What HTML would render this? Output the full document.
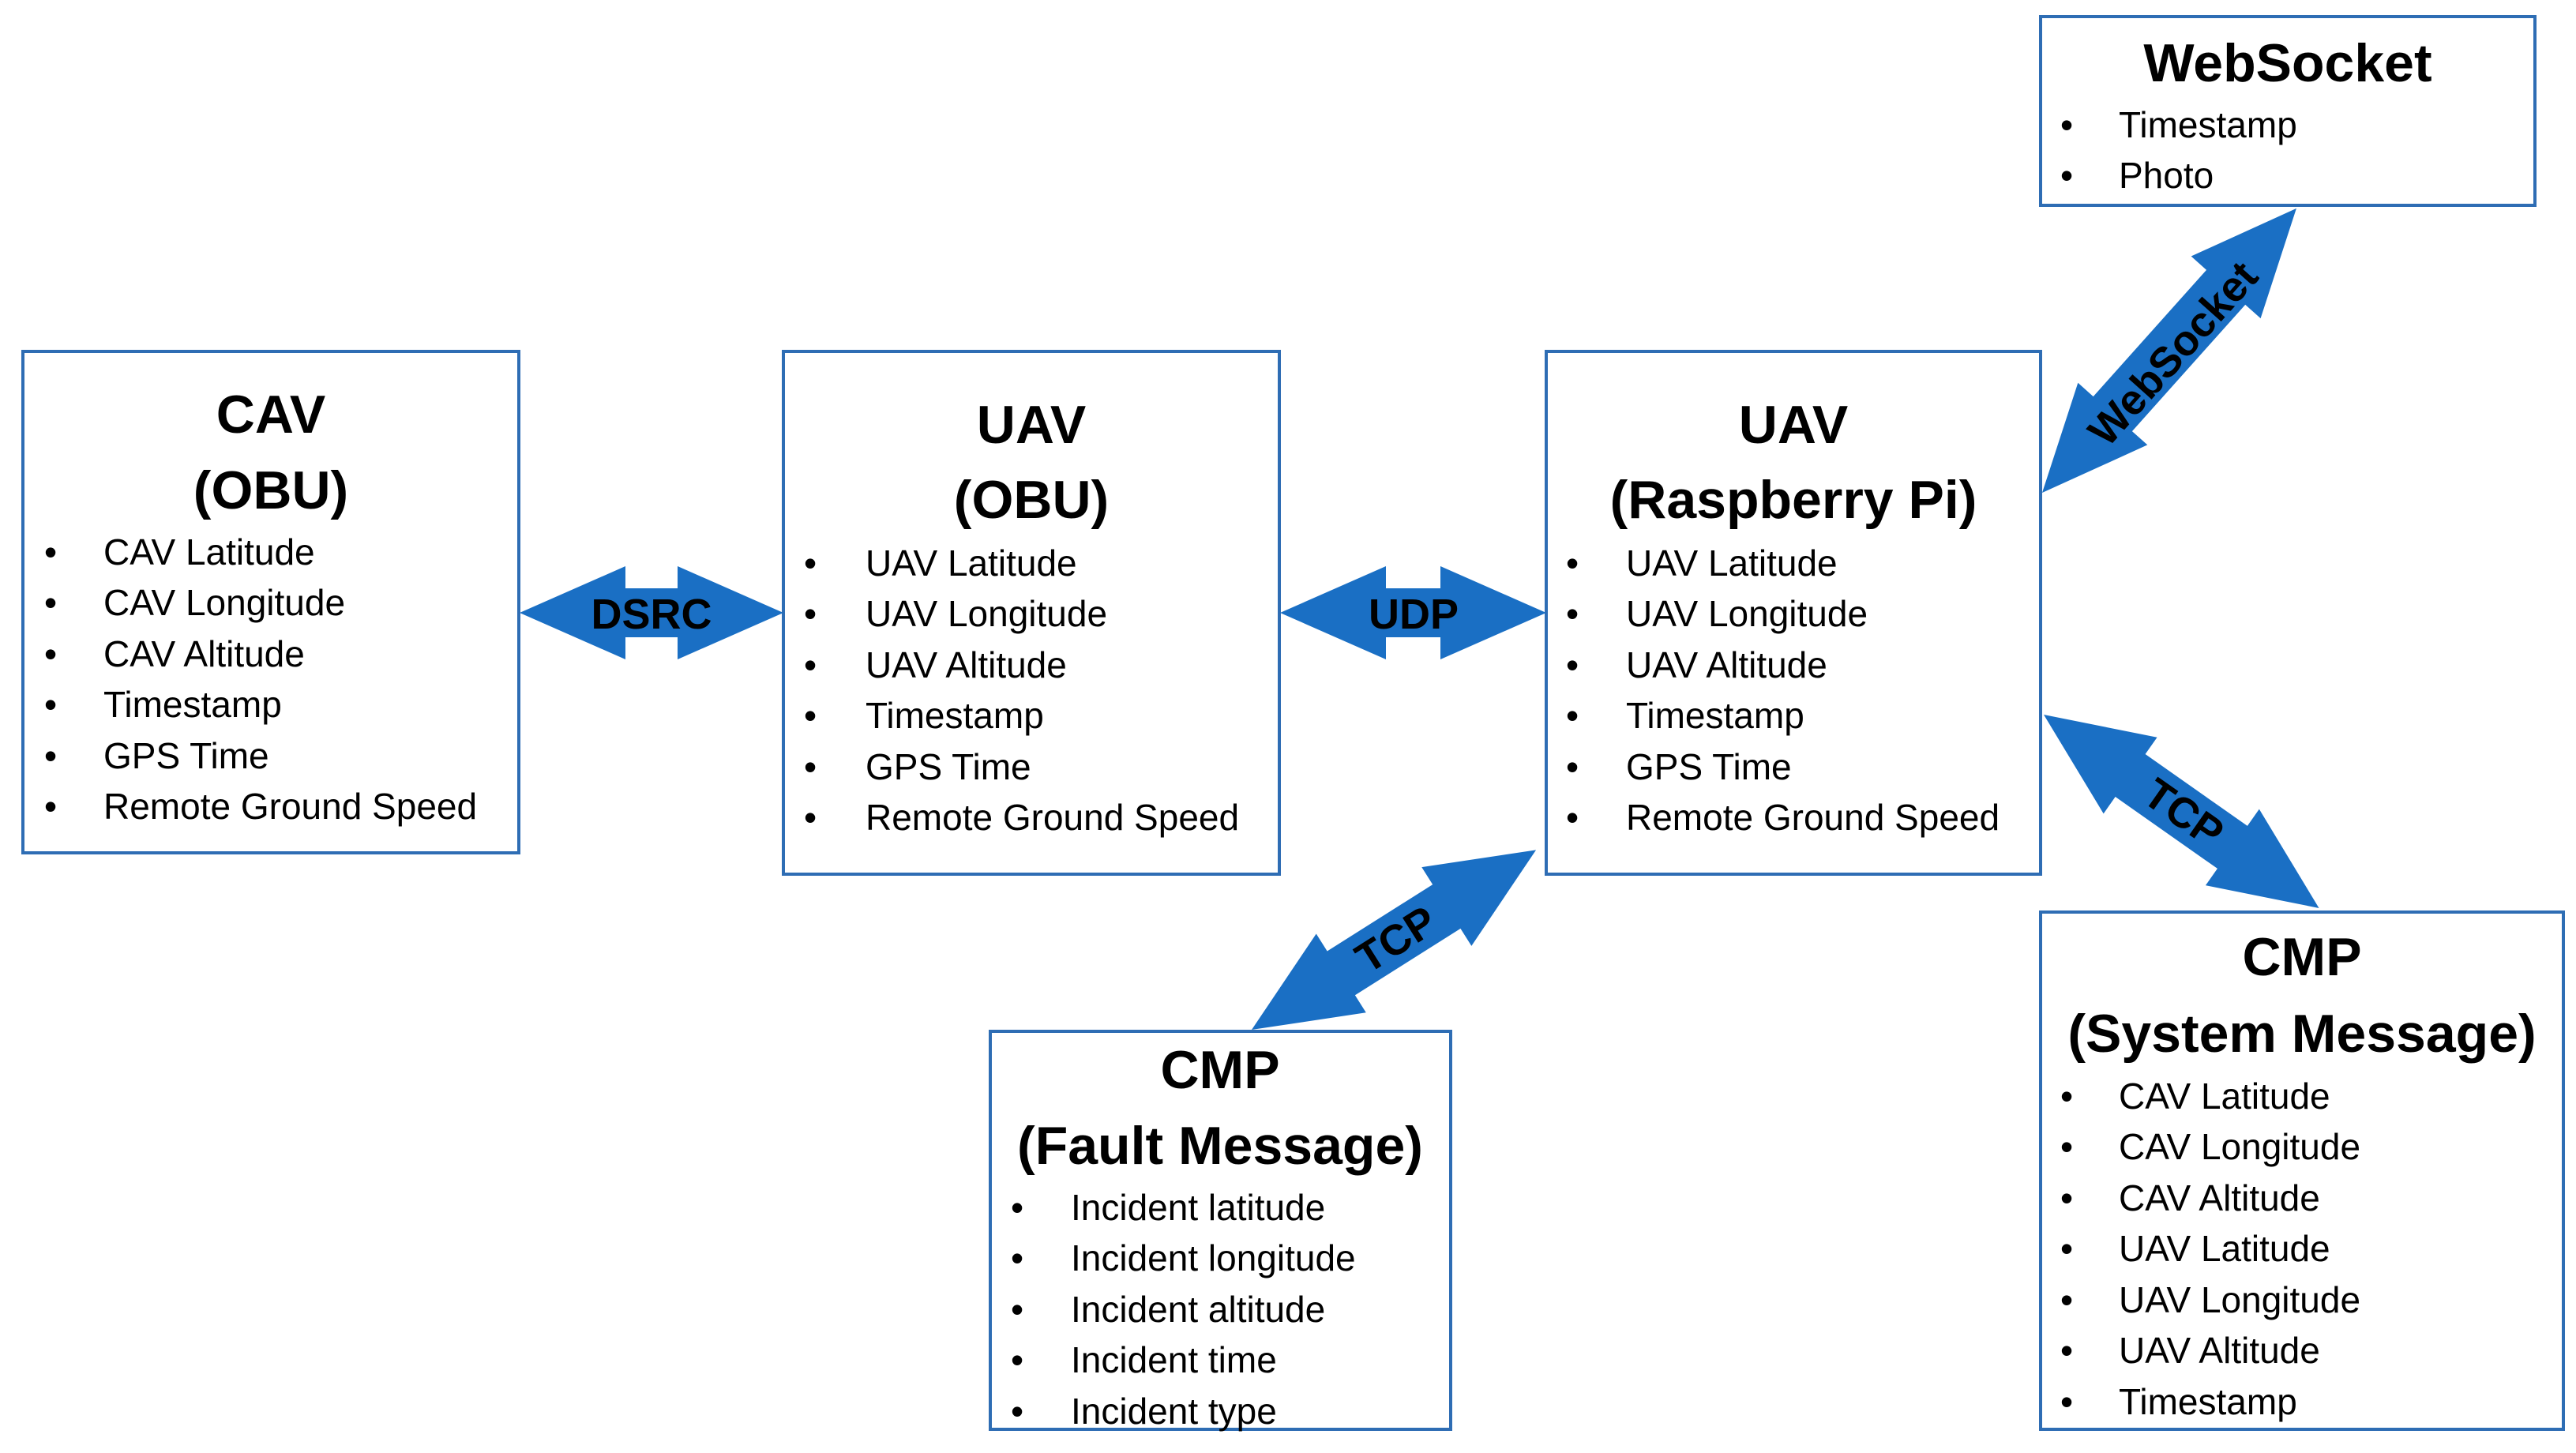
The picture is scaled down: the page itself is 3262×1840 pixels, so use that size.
<!DOCTYPE html>
<html><head><meta charset="utf-8"><style>
html,body{margin:0;padding:0;background:#fff;}
svg{display:block;}
text{font-family:"Liberation Sans",sans-serif;fill:#000;}
.t{font-size:68px;font-weight:bold;text-anchor:middle;}
.i{font-size:46px;}
.l{font-size:54px;font-weight:bold;text-anchor:middle;}
rect{fill:#fff;stroke:#2e6db4;stroke-width:4;}
.a{fill:#1a6fc4;}
</style></head><body>
<svg width="3262" height="1840" viewBox="0 0 3262 1840" xmlns="http://www.w3.org/2000/svg">
<rect x="29" y="445" width="628" height="635"/>
<rect x="992" y="445" width="628" height="662"/>
<rect x="1958" y="445" width="626" height="662"/>
<rect x="2584" y="21" width="626" height="239"/>
<rect x="1254" y="1306" width="583" height="504"/>
<rect x="2584" y="1155" width="662" height="655"/>

<g class="a">
<polygon transform="translate(658,776)" points="0,0 134,-59 134,-31 200,-31 200,-59 334,0 200,59 200,31 134,31 134,59"/>
<polygon transform="translate(1621,776)" points="0,0 134,-59 134,-31 203,-31 203,-59 337,0 203,59 203,31 134,31 134,59"/>
<polygon transform="translate(2586,624) rotate(-48.2)" points="0,0 134,-59 134,-33 349,-33 349,-59 483,0 349,59 349,33 134,33 134,59"/>
<polygon transform="translate(2588,905) rotate(35.1)" points="0,0 134,-59 134,-33 292,-33 292,-59 426,0 292,59 292,33 134,33 134,59"/>
<polygon transform="translate(1585,1304) rotate(-32.3)" points="0,0 134,-59 134,-33 292,-33 292,-59 426,0 292,59 292,33 134,33 134,59"/>
</g>
<text class="l" x="825" y="796">DSRC</text>
<text class="l" x="1790" y="796">UDP</text>
<text class="l" transform="translate(2752,448) rotate(-48.2)" x="0" y="18">WebSocket</text>
<text class="l" transform="translate(2765,1030) rotate(35.1)" x="0" y="18">TCP</text>
<text class="l" transform="translate(1768,1190) rotate(-32.3)" x="0" y="18">TCP</text>

<text class="t" x="343" y="548">CAV</text>
<text class="t" x="343" y="644">(OBU)</text>
<g class="i">
<text x="56" y="715">•</text><text x="131" y="715">CAV Latitude</text>
<text x="56" y="779">•</text><text x="131" y="779">CAV Longitude</text>
<text x="56" y="844">•</text><text x="131" y="844">CAV Altitude</text>
<text x="56" y="908">•</text><text x="131" y="908">Timestamp</text>
<text x="56" y="973">•</text><text x="131" y="973">GPS Time</text>
<text x="56" y="1037">•</text><text x="131" y="1037">Remote Ground Speed</text>
</g>
<text class="t" x="1306" y="561">UAV</text>
<text class="t" x="1306" y="656">(OBU)</text>
<g class="i">
<text x="1018" y="729">•</text><text x="1096" y="729">UAV Latitude</text>
<text x="1018" y="793">•</text><text x="1096" y="793">UAV Longitude</text>
<text x="1018" y="858">•</text><text x="1096" y="858">UAV Altitude</text>
<text x="1018" y="922">•</text><text x="1096" y="922">Timestamp</text>
<text x="1018" y="987">•</text><text x="1096" y="987">GPS Time</text>
<text x="1018" y="1051">•</text><text x="1096" y="1051">Remote Ground Speed</text>
</g>
<text class="t" x="2271" y="561">UAV</text>
<text class="t" x="2271" y="656">(Raspberry Pi)</text>
<g class="i">
<text x="1983" y="729">•</text><text x="2059" y="729">UAV Latitude</text>
<text x="1983" y="793">•</text><text x="2059" y="793">UAV Longitude</text>
<text x="1983" y="858">•</text><text x="2059" y="858">UAV Altitude</text>
<text x="1983" y="922">•</text><text x="2059" y="922">Timestamp</text>
<text x="1983" y="987">•</text><text x="2059" y="987">GPS Time</text>
<text x="1983" y="1051">•</text><text x="2059" y="1051">Remote Ground Speed</text>
</g>
<text class="t" x="2897" y="103">WebSocket</text>
<g class="i">
<text x="2609" y="174">•</text><text x="2683" y="174">Timestamp</text>
<text x="2609" y="238">•</text><text x="2683" y="238">Photo</text>
</g>
<text class="t" x="1545" y="1378">CMP</text>
<text class="t" x="1545" y="1474">(Fault Message)</text>
<g class="i">
<text x="1280" y="1545">•</text><text x="1356" y="1545">Incident latitude</text>
<text x="1280" y="1609">•</text><text x="1356" y="1609">Incident longitude</text>
<text x="1280" y="1674">•</text><text x="1356" y="1674">Incident altitude</text>
<text x="1280" y="1738">•</text><text x="1356" y="1738">Incident time</text>
<text x="1280" y="1803">•</text><text x="1356" y="1803">Incident type</text>
</g>
<text class="t" x="2915" y="1235">CMP</text>
<text class="t" x="2915" y="1332">(System Message)</text>
<g class="i">
<text x="2609" y="1404">•</text><text x="2683" y="1404">CAV Latitude</text>
<text x="2609" y="1468">•</text><text x="2683" y="1468">CAV Longitude</text>
<text x="2609" y="1533">•</text><text x="2683" y="1533">CAV Altitude</text>
<text x="2609" y="1597">•</text><text x="2683" y="1597">UAV Latitude</text>
<text x="2609" y="1662">•</text><text x="2683" y="1662">UAV Longitude</text>
<text x="2609" y="1726">•</text><text x="2683" y="1726">UAV Altitude</text>
<text x="2609" y="1791">•</text><text x="2683" y="1791">Timestamp</text>
</g>
</svg>
</body></html>
